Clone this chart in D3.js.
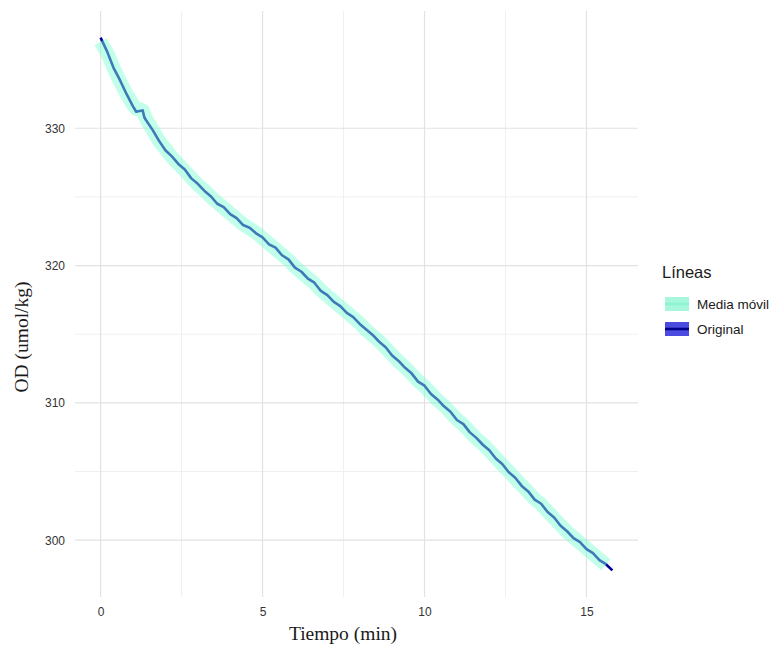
<!DOCTYPE html>
<html>
<head>
<meta charset="utf-8">
<script src="https://cdnjs.cloudflare.com/ajax/libs/d3/7.8.5/d3.min.js"></script>
<style>
  html, body { margin: 0; padding: 0; background: #ffffff; }
  svg { display: block; }
</style>
</head>
<body>
<svg id="chart" width="778" height="649"></svg>
<script>
// Raw dissolved-oxygen readings over time
const timeOriginal = [
  0.0, 0.2, 0.4, 0.6, 0.8, 1.0, 1.1, 1.2, 1.3, 1.35, 1.4, 1.6, 1.8, 2.0, 2.2, 2.4, 2.6, 2.8,
  3.0, 3.2, 3.4, 3.6, 3.8, 4.0, 4.2, 4.4, 4.6, 4.8, 5.0, 5.2, 5.4, 5.6, 5.8,
  6.0, 6.2, 6.4, 6.6, 6.8, 7.0, 7.2, 7.4, 7.6, 7.8, 8.0, 8.2, 8.4, 8.6, 8.8,
  9.0, 9.2, 9.4, 9.6, 9.8, 10.0, 10.2, 10.4, 10.6, 10.8, 11.0, 11.2, 11.4, 11.6, 11.8,
  12.0, 12.2, 12.4, 12.6, 12.8, 13.0, 13.2, 13.4, 13.6, 13.8, 14.0, 14.2, 14.4, 14.6, 14.8,
  15.0, 15.2, 15.4, 15.6, 15.8
];
const valueOriginal = [
  336.6, 335.6, 334.4, 333.5, 332.5, 331.6, 331.2, 331.25, 331.3, 330.8, 330.6, 329.9, 329.1, 328.4, 327.95, 327.4, 327.0, 326.35,
  325.95, 325.45, 325.05, 324.5, 324.25, 323.75, 323.45, 322.95, 322.75, 322.35, 322.05, 321.55, 321.3, 320.75, 320.45,
  319.85, 319.55, 319.05, 318.75, 318.15, 317.85, 317.35, 317.05, 316.55, 316.25, 315.75, 315.35, 314.95, 314.45, 314.05,
  313.45, 313.05, 312.55, 312.15, 311.55, 311.25, 310.65, 310.25, 309.75, 309.35, 308.75, 308.45, 307.85, 307.45, 306.95,
  306.55, 305.95, 305.55, 304.95, 304.55, 303.95, 303.55, 302.95, 302.65, 302.05, 301.65, 301.05, 300.65, 300.15, 299.85,
  299.35, 299.05, 298.55, 298.25, 297.8
];

// Moving-average series
const timeMedia = [
  0.0, 0.2, 0.4, 0.6, 0.8, 1.0, 1.1, 1.2, 1.3, 1.4, 1.6, 1.8, 2.0, 2.2, 2.4, 2.6, 2.8,
  3.0, 3.2, 3.4, 3.6, 3.8, 4.0, 4.2, 4.4, 4.6, 4.8, 5.0, 5.2, 5.4, 5.6, 5.8,
  6.0, 6.2, 6.4, 6.6, 6.8, 7.0, 7.2, 7.4, 7.6, 7.8, 8.0, 8.2, 8.4, 8.6, 8.8,
  9.0, 9.2, 9.4, 9.6, 9.8, 10.0, 10.2, 10.4, 10.6, 10.8, 11.0, 11.2, 11.4, 11.6, 11.8,
  12.0, 12.2, 12.4, 12.6, 12.8, 13.0, 13.2, 13.4, 13.6, 13.8, 14.0, 14.2, 14.4, 14.6, 14.8,
  15.0, 15.2, 15.4, 15.6
];
const valueMedia = [
  336.3, 335.5, 334.4, 333.4, 332.5, 331.7, 331.4, 331.4, 331.3, 330.7, 329.9, 329.1, 328.5, 327.9, 327.4, 326.9, 326.4,
  325.9, 325.5, 325.0, 324.6, 324.2, 323.8, 323.4, 323.0, 322.7, 322.4, 322.0, 321.6, 321.2, 320.8, 320.4,
  319.9, 319.5, 319.1, 318.7, 318.2, 317.8, 317.4, 317.0, 316.6, 316.2, 315.8, 315.3, 314.9, 314.5, 314.0,
  313.5, 313.0, 312.6, 312.1, 311.6, 311.2, 310.7, 310.2, 309.8, 309.3, 308.8, 308.4, 307.9, 307.4, 307.0,
  306.5, 306.0, 305.5, 305.0, 304.5, 304.0, 303.5, 303.0, 302.6, 302.1, 301.6, 301.1, 300.6, 300.2, 299.8,
  299.4, 299.0, 298.6, 298.2
];

const xTicks = [0, 5, 10, 15];
const xMinor = [2.5, 7.5, 12.5];
const yTicks = [300, 310, 320, 330];
const yMinor = [305, 315, 325];

const seriesNames = ["Media móvil", "Original"];
const legendTitle = "Líneas";
const xTitle = "Tiempo (min)";
const yTitle = "OD (umol/kg)";

const svg = d3.select("#chart");
const panel = { left: 75, right: 638, top: 11, bottom: 597 };

// Scales padded 5% beyond the data range on both axes
const allT = timeOriginal.concat(timeMedia);
const allV = valueOriginal.concat(valueMedia);
const [tMin, tMax] = d3.extent(allT);
const [vMin, vMax] = d3.extent(allV);
const tPad = (tMax - tMin) * 0.05, vPad = (vMax - vMin) * 0.05;

const x = d3.scaleLinear().domain([tMin - tPad, tMax + tPad]).range([panel.left, panel.right]);
const y = d3.scaleLinear().domain([vMin - vPad, vMax + vPad]).range([panel.bottom, panel.top]);

const color = d3.scaleOrdinal().domain(seriesNames).range(["#7fffd4", "#0000a0"]);

// Grid
const grid = svg.append("g");
grid.selectAll(".vminor").data(xMinor).join("line")
  .attr("x1", d => x(d)).attr("x2", d => x(d))
  .attr("y1", panel.top).attr("y2", panel.bottom)
  .attr("stroke", "#ededed").attr("stroke-width", 0.9);
grid.selectAll(".hminor").data(yMinor).join("line")
  .attr("x1", panel.left).attr("x2", panel.right)
  .attr("y1", d => y(d)).attr("y2", d => y(d))
  .attr("stroke", "#ededed").attr("stroke-width", 0.9);
grid.selectAll(".vmajor").data(xTicks).join("line")
  .attr("x1", d => x(d)).attr("x2", d => x(d))
  .attr("y1", panel.top).attr("y2", panel.bottom)
  .attr("stroke", "#e2e2e2").attr("stroke-width", 1.2);
grid.selectAll(".hmajor").data(yTicks).join("line")
  .attr("x1", panel.left).attr("x2", panel.right)
  .attr("y1", d => y(d)).attr("y2", d => y(d))
  .attr("stroke", "#e2e2e2").attr("stroke-width", 1.2);

// Axes (labels only, no domain lines or tick marks)
const xAxis = svg.append("g")
  .attr("transform", `translate(0,${panel.bottom})`)
  .call(d3.axisBottom(x).tickValues(xTicks).tickSize(0).tickPadding(10).tickFormat(d3.format("d")));
const yAxis = svg.append("g")
  .attr("transform", `translate(${panel.left},0)`)
  .call(d3.axisLeft(y).tickValues(yTicks).tickSize(0).tickPadding(10).tickFormat(d3.format("d")));
[xAxis, yAxis].forEach(a => {
  a.select(".domain").remove();
  a.selectAll("text")
    .attr("font-family", "'Liberation Sans', Arial, sans-serif")
    .attr("font-size", 12).attr("fill", "#333333");
});

// Lines: raw series underneath, translucent moving-average band on top
const line = d3.line().x(d => x(d[0])).y(d => y(d[1]));
const origPts = timeOriginal.map((t, i) => [t, valueOriginal[i]]);
const mediaPts = timeMedia.map((t, i) => [t, valueMedia[i]]);

svg.append("path")
  .datum(origPts)
  .attr("d", line)
  .attr("fill", "none")
  .attr("stroke", color("Original"))
  .attr("stroke-width", 2.6)
  .attr("stroke-linejoin", "round");

svg.append("path")
  .datum(mediaPts)
  .attr("d", line)
  .attr("fill", "none")
  .attr("stroke", color("Media móvil"))
  .attr("stroke-opacity", 0.48)
  .attr("stroke-width", 14)
  .attr("stroke-linejoin", "round");

// Axis titles
svg.append("text")
  .attr("x", 343).attr("y", 640)
  .attr("text-anchor", "middle")
  .attr("font-family", "'Liberation Serif', 'Times New Roman', serif")
  .attr("font-size", 19.5).attr("fill", "#1a1a1a")
  .text(xTitle);
svg.append("text")
  .attr("transform", "translate(28,337) rotate(-90)")
  .attr("text-anchor", "middle")
  .attr("font-family", "'Liberation Serif', 'Times New Roman', serif")
  .attr("font-size", 19.5).attr("fill", "#1a1a1a")
  .text(yTitle);

// Legend
const legend = svg.append("g").attr("transform", "translate(662,0)");
legend.append("text")
  .attr("x", 0).attr("y", 278)
  .attr("font-family", "'Liberation Sans', Arial, sans-serif")
  .attr("font-size", 16.5).attr("fill", "#1a1a1a")
  .text(legendTitle);

const keyFill = { "Media móvil": "#a6f7dc", "Original": "#4b4be0" };
const keyLine = { "Media móvil": "#8ff2d0", "Original": "#00008b" };
seriesNames.forEach((name, i) => {
  const cy = 304 + i * 25;
  const g = legend.append("g");
  g.append("rect")
    .attr("x", 3).attr("y", cy - 7).attr("width", 24).attr("height", 14)
    .attr("fill", keyFill[name]);
  g.append("line")
    .attr("x1", 3).attr("x2", 27).attr("y1", cy).attr("y2", cy)
    .attr("stroke", keyLine[name]).attr("stroke-width", 2.6);
  g.append("text")
    .attr("x", 35).attr("y", cy + 5)
    .attr("font-family", "'Liberation Sans', Arial, sans-serif")
    .attr("font-size", 13.5).attr("fill", "#1a1a1a")
    .text(name);
});
</script>
</body>
</html>
